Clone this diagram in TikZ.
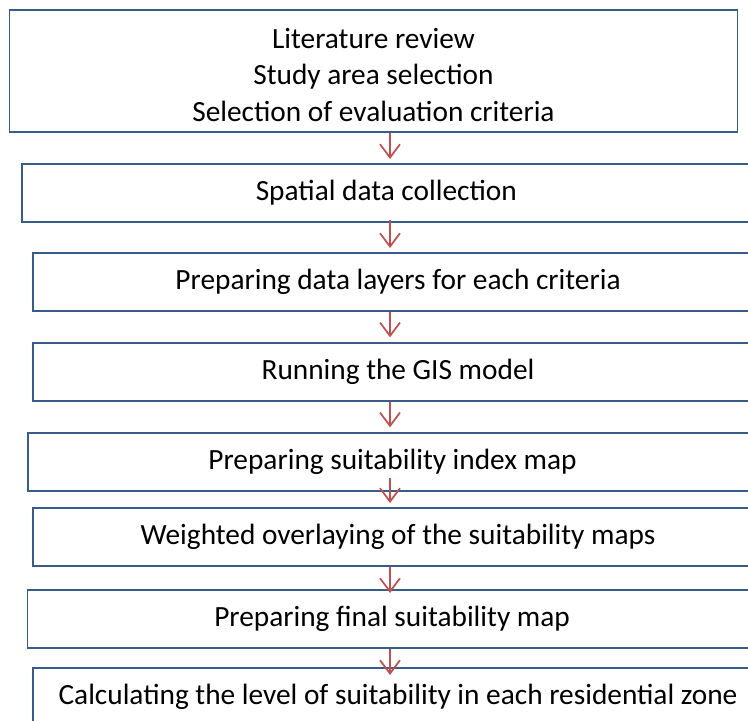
\documentclass[tikz,border=0pt]{standalone}
\usepackage{fontspec}
\setmainfont{Carlito}
\usetikzlibrary{arrows.meta}

\definecolor{boxblue}{RGB}{56,93,138}
\definecolor{arrowred}{RGB}{192,80,77}

\begin{document}
\begin{tikzpicture}[
    x=0.75pt, y=-0.75pt,
    >={Straight Barb[length=10pt, width=15pt]},
    every node/.style={font=\fontsize{22}{27.4}\selectfont},
    stage/.style={draw=boxblue, line width=1.4pt, fill=white, anchor=north west, inner sep=0pt, align=center, minimum width=547pt, minimum height=43.5pt},
    flow/.style={->, draw=arrowred, line width=1.3pt}
]
\useasboundingbox (0,0) rectangle (748,720);

\node[stage, minimum width=546pt, minimum height=91pt] (review) at (8.5,9.5) {\rule{0pt}{21pt}Literature review\\Study area selection\\Selection of evaluation criteria};
\node[stage] (collect) at (20.7,163) {Spatial data collection};
\node[stage] (layers) at (32.4,252) {Preparing data layers for each criteria};
\node[stage] (model) at (32.4,342) {Running the GIS model};
\node[stage] (index) at (27,432) {Preparing suitability index map};
\node[stage] (overlay) at (32.4,507) {Weighted overlaying of the suitability maps};
\node[stage] (final) at (26.5,589) {Preparing final suitability map};
\node[stage] (zone) at (32.4,667) {Calculating the level of suitability in each residential zone};

% arrows run down one common axis
\coordinate (axis) at (390,0);
\draw[flow, shorten >=3pt] (review.south -| axis) -- (collect.north -| axis);
\draw[flow, shorten <=-2pt, shorten >=3pt] (collect.south -| axis) -- (layers.north -| axis);
\draw[flow, shorten >=3.5pt] (layers.south -| axis) -- (model.north -| axis);
\draw[flow, shorten >=3.5pt] (model.south -| axis) -- (index.north -| axis);
\draw[flow, shorten <=-10.5pt, shorten >=3pt] (index.south -| axis) -- (overlay.north -| axis);
\draw[flow, shorten >=-3pt] (overlay.south -| axis) -- (final.north -| axis);
\draw[flow, shorten >=-6pt] (final.south -| axis) -- (zone.north -| axis);
\end{tikzpicture}
\end{document}
